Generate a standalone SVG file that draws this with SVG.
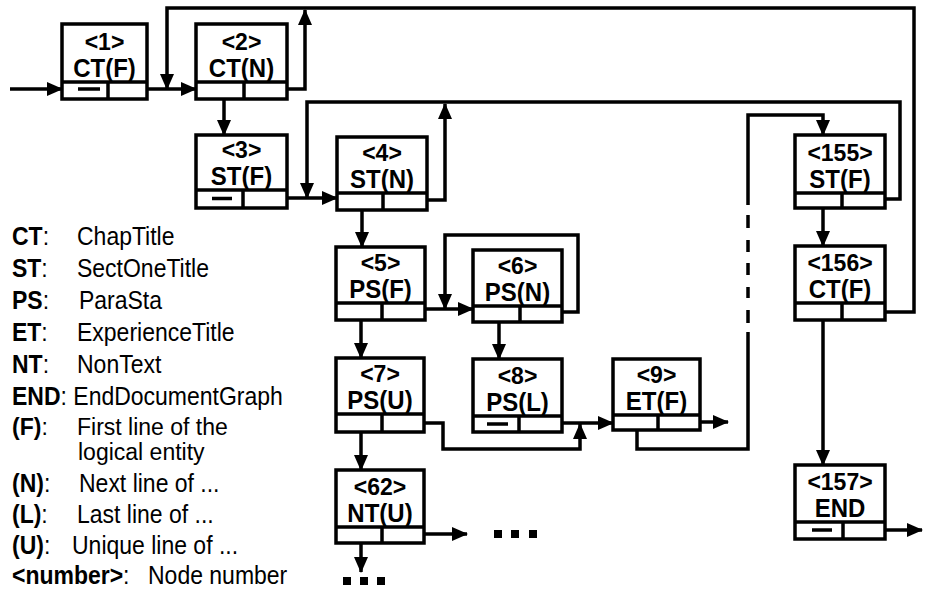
<svg xmlns="http://www.w3.org/2000/svg" width="925" height="589" viewBox="0 0 925 589">
<style>
.box{fill:#fff;stroke:#000;stroke-width:3.5}
.ln{fill:none;stroke:#000;stroke-width:3.5}
.num{font-family:"Liberation Sans",Arial,sans-serif;font-weight:bold;font-size:23px;text-anchor:middle}
.lab{font-family:"Liberation Sans",Arial,sans-serif;font-weight:bold;font-size:24px;text-anchor:middle}
.leg{font-family:"Liberation Sans",Arial,sans-serif;font-size:23px}
.b{font-weight:bold}
</style>
<defs>
<marker id="ah" markerUnits="userSpaceOnUse" markerWidth="16" markerHeight="14" refX="15" refY="7" orient="auto"><path d="M0,0 L16,7 L0,14 z" fill="#000"/></marker>
</defs>
<rect width="925" height="589" fill="#fff"/>
<g id="connectors">
<path class="ln" d="M10 89H62" marker-end="url(#ah)"/>
<path class="ln" d="M131 89H196" marker-end="url(#ah)"/>
<path class="ln" d="M862 312H914V8H167V89" marker-end="url(#ah)"/>
<path class="ln" d="M265 89H305V10" marker-end="url(#ah)"/>
<path class="ln" d="M224 89V135" marker-end="url(#ah)"/>
<path class="ln" d="M272 198H337" marker-end="url(#ah)"/>
<path class="ln" d="M862 199H900V102H307V198" marker-end="url(#ah)"/>
<path class="ln" d="M403 200H445V104" marker-end="url(#ah)"/>
<path class="ln" d="M362 200V247" marker-end="url(#ah)"/>
<path class="ln" d="M407 309H473" marker-end="url(#ah)"/>
<path class="ln" d="M540 312H578V235H445V309" marker-end="url(#ah)"/>
<path class="ln" d="M361 309V358" marker-end="url(#ah)"/>
<path class="ln" d="M499 312V359" marker-end="url(#ah)"/>
<path class="ln" d="M403 423H443V449H580V424" marker-end="url(#ah)"/>
<path class="ln" d="M547 423H613" marker-end="url(#ah)"/>
<path class="ln" d="M683 422H728" marker-end="url(#ah)"/>
<path class="ln" d="M637 422V449H748V332"/>
<path class="ln" d="M748 215V228M748 240V252M748 263V275M748 287V298M748 310V323"/>
<path class="ln" d="M748 205V115H823V135" marker-end="url(#ah)"/>
<path class="ln" d="M361 423V470" marker-end="url(#ah)"/>
<path class="ln" d="M361 537V572" marker-end="url(#ah)"/>
<path class="ln" d="M407 534H467" marker-end="url(#ah)"/>
<path class="ln" d="M823 199V246" marker-end="url(#ah)"/>
<path class="ln" d="M823 312V465" marker-end="url(#ah)"/>
<path class="ln" d="M873 530H922" marker-end="url(#ah)"/>
<g id="ellipses" fill="#000">
<rect x="494" y="530" width="8" height="8"/><rect x="511" y="530" width="8" height="8"/><rect x="529" y="530" width="8" height="8"/>
<rect x="343" y="577" width="8" height="8"/><rect x="360" y="577" width="8" height="8"/><rect x="377" y="577" width="8" height="8"/>
</g>
</g>
<g id="n1"><rect class="box" x="62" y="24" width="85" height="75"/><path class="ln" d="M62 82H147M108 82V99M78 89H100"/><text class="num" x="104.5" y="50">&lt;1&gt;</text><text class="lab" transform="translate(104.5 77) scale(1 1.1)">CT(F)</text></g>
<g id="n2"><rect class="box" x="196" y="24" width="91" height="75"/><path class="ln" d="M196 82H287M244 82V99"/><text class="num" x="241.5" y="50">&lt;2&gt;</text><text class="lab" transform="translate(241.5 77) scale(1 1.1)">CT(N)</text></g>
<g id="n3"><rect class="box" x="196" y="135" width="91" height="73"/><path class="ln" d="M196 190H287M243 190V208M212 198.5H232"/><text class="num" x="241.5" y="158">&lt;3&gt;</text><text class="lab" transform="translate(241.5 185) scale(1 1.1)">ST(F)</text></g>
<g id="n4"><rect class="box" x="337" y="137" width="90" height="73"/><path class="ln" d="M337 193H427M383 193V210"/><text class="num" x="382" y="161">&lt;4&gt;</text><text class="lab" transform="translate(382 188) scale(1 1.1)">ST(N)</text></g>
<g id="n5"><rect class="box" x="336" y="247" width="89" height="73"/><path class="ln" d="M336 303H425M382 303V320"/><text class="num" x="380.5" y="271">&lt;5&gt;</text><text class="lab" transform="translate(380.5 298) scale(1 1.1)">PS(F)</text></g>
<g id="n6"><rect class="box" x="473" y="250" width="89" height="72"/><path class="ln" d="M473 306H562M520 306V322"/><text class="num" x="517.5" y="274">&lt;6&gt;</text><text class="lab" transform="translate(517.5 301) scale(1 1.1)">PS(N)</text></g>
<g id="n7"><rect class="box" x="336" y="358" width="88" height="74"/><path class="ln" d="M336 414H424M382 414V432"/><text class="num" x="380" y="382">&lt;7&gt;</text><text class="lab" transform="translate(380 409) scale(1 1.1)">PS(U)</text></g>
<g id="n8"><rect class="box" x="473" y="359" width="89" height="73"/><path class="ln" d="M473 416H562M519 416V432M487 424H508"/><text class="num" x="517.5" y="384">&lt;8&gt;</text><text class="lab" transform="translate(517.5 411) scale(1 1.1)">PS(L)</text></g>
<g id="n9"><rect class="box" x="613" y="359" width="87" height="71"/><path class="ln" d="M613 415H700M658 415V430"/><text class="num" x="656.5" y="383">&lt;9&gt;</text><text class="lab" transform="translate(656.5 410) scale(1 1.1)">ET(F)</text></g>
<g id="n62"><rect class="box" x="336" y="470" width="88" height="73"/><path class="ln" d="M336 527H424M382 527V543"/><text class="num" x="380" y="495">&lt;62&gt;</text><text class="lab" transform="translate(380 522) scale(1 1.1)">NT(U)</text></g>
<g id="n155"><rect class="box" x="795" y="135" width="90" height="73"/><path class="ln" d="M795 193H885M842 193V208"/><text class="num" x="840" y="161">&lt;155&gt;</text><text class="lab" transform="translate(840 188) scale(1 1.1)">ST(F)</text></g>
<g id="n156"><rect class="box" x="795" y="246" width="90" height="74"/><path class="ln" d="M795 303H885M842 303V320"/><text class="num" x="840" y="271">&lt;156&gt;</text><text class="lab" transform="translate(840 298) scale(1 1.1)">CT(F)</text></g>
<g id="n157"><rect class="box" x="795" y="465" width="90" height="74"/><path class="ln" d="M795 522H885M843 522V539M812 530H832"/><text class="num" x="840" y="490">&lt;157&gt;</text><text class="lab" transform="translate(840 517) scale(1 1.1)">END</text></g>
<g id="legend" class="leg">
<text transform="translate(12 245) scale(1 1.1)"><tspan class="b">CT</tspan>:</text><text transform="translate(77 245) scale(1 1.1)">ChapTitle</text>
<text transform="translate(12 277) scale(1 1.1)"><tspan class="b">ST</tspan>:</text><text transform="translate(77 277) scale(1 1.1)">SectOneTitle</text>
<text transform="translate(12 309) scale(1 1.1)"><tspan class="b">PS</tspan>:</text><text transform="translate(79 309) scale(1 1.1)">ParaSta</text>
<text transform="translate(12 341) scale(1 1.1)"><tspan class="b">ET</tspan>:</text><text transform="translate(77 341) scale(1 1.1)">ExperienceTitle</text>
<text transform="translate(12 373) scale(1 1.1)"><tspan class="b">NT</tspan>:</text><text transform="translate(77 373) scale(1 1.1)">NonText</text>
<text transform="translate(12 405) scale(1 1.1)"><tspan class="b">END</tspan>: EndDocumentGraph</text>
<text x="12" y="435"><tspan class="b">(F)</tspan>:</text><text x="77" y="435">First line of the</text>
<text x="78" y="460">logical entity</text>
<text transform="translate(12 492) scale(1 1.1)"><tspan class="b">(N)</tspan>:</text><text transform="translate(79 492) scale(1 1.1)">Next line of ...</text>
<text transform="translate(12 523) scale(1 1.1)"><tspan class="b">(L)</tspan>:</text><text transform="translate(77 523) scale(1 1.1)">Last line of ...</text>
<text transform="translate(12 554) scale(1 1.1)"><tspan class="b">(U)</tspan>:</text><text transform="translate(72 554) scale(1 1.1)">Unique line of ...</text>
<text transform="translate(12 584) scale(1 1.1)"><tspan class="b">&lt;number&gt;</tspan>:</text><text transform="translate(148 584) scale(1 1.1)">Node number</text>
</g>
</svg>
